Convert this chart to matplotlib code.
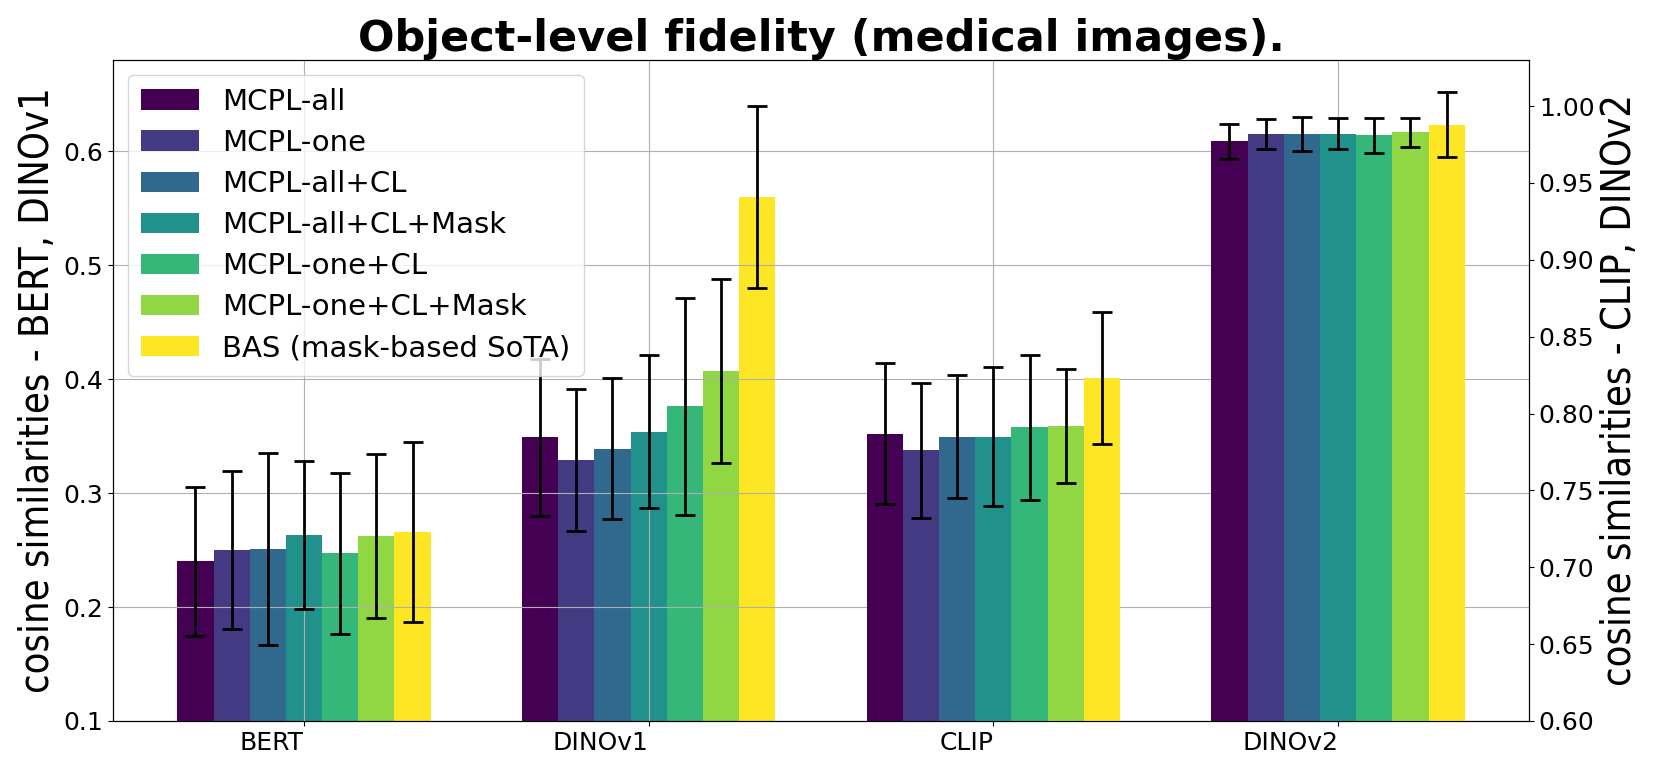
import numpy as np
import matplotlib
matplotlib.use("Agg")
import matplotlib.pyplot as plt

# encoders: first two on the left axis, last two on the right axis
encoders_left = ["BERT", "DINOv1"]
encoders_right = ["CLIP", "DINOv2"]
methods = ["MCPL-all", "MCPL-one", "MCPL-all+CL", "MCPL-all+CL+Mask",
           "MCPL-one+CL", "MCPL-one+CL+Mask", "BAS (mask-based SoTA)"]

# mean cosine similarity per method
bert_mean = [0.240, 0.250, 0.251, 0.263, 0.247, 0.262, 0.266]
dinov1_mean = [0.349, 0.329, 0.339, 0.354, 0.376, 0.407, 0.560]
clip_mean = [0.787, 0.776, 0.785, 0.785, 0.791, 0.792, 0.823]
dinov2_mean = [0.977, 0.982, 0.982, 0.982, 0.981, 0.983, 0.988]

# std per method
bert_std = [0.065, 0.069, 0.084, 0.065, 0.071, 0.072, 0.079]
dinov1_std = [0.069, 0.062, 0.062, 0.067, 0.095, 0.081, 0.080]
clip_std = [0.046, 0.044, 0.040, 0.045, 0.047, 0.037, 0.043]
dinov2_std = [0.0115, 0.0096, 0.0112, 0.0100, 0.0115, 0.0093, 0.0213]

left_means = np.array([bert_mean, dinov1_mean]).T
left_stds = np.array([bert_std, dinov1_std]).T
right_means = np.array([clip_mean, dinov2_mean]).T
right_stds = np.array([clip_std, dinov2_std]).T

colors = plt.cm.viridis(np.linspace(0, 1, len(methods)))
width = 0.105
x_left = np.arange(2)
x_right = np.arange(2) + 2

fig, ax1 = plt.subplots(figsize=(16.61, 7.75), dpi=100)
ax2 = ax1.twinx()

for i, m in enumerate(methods):
    off = (i - (len(methods) - 1) / 2) * width
    ax1.bar(x_left + off, left_means[i], width, yerr=left_stds[i],
            color=colors[i], label=m, capsize=7,
            error_kw=dict(elinewidth=2, capthick=2))
    ax2.bar(x_right + off, right_means[i], width, yerr=right_stds[i],
            color=colors[i], capsize=7,
            error_kw=dict(elinewidth=2, capthick=2))

ax1.set_ylim(0.1, 0.68)
ax2.set_ylim(0.6, 1.03)
ax1.set_xticks(np.arange(4))
ax1.set_xticklabels(encoders_left + encoders_right, ha="right")
ax1.tick_params(axis="both", labelsize=18)
ax2.tick_params(axis="y", labelsize=18)
ax1.grid(True)

ax1.set_ylabel("cosine similarities - BERT, DINOv1", fontsize=28.5,
               fontstretch="condensed")
ax2.set_ylabel("cosine similarities - CLIP, DINOv2", fontsize=28.5,
               fontstretch="condensed")
ax1.set_title("Object-level fidelity (medical images).", fontsize=31,
              fontweight="bold")
ax1.legend(loc="upper left", fontsize=21, labelspacing=0.45,
           borderpad=0.45)

plt.subplots_adjust(left=0.068, right=0.9206, top=0.9226, bottom=0.0697)
plt.savefig("out.png", dpi=100)
plt.close()
